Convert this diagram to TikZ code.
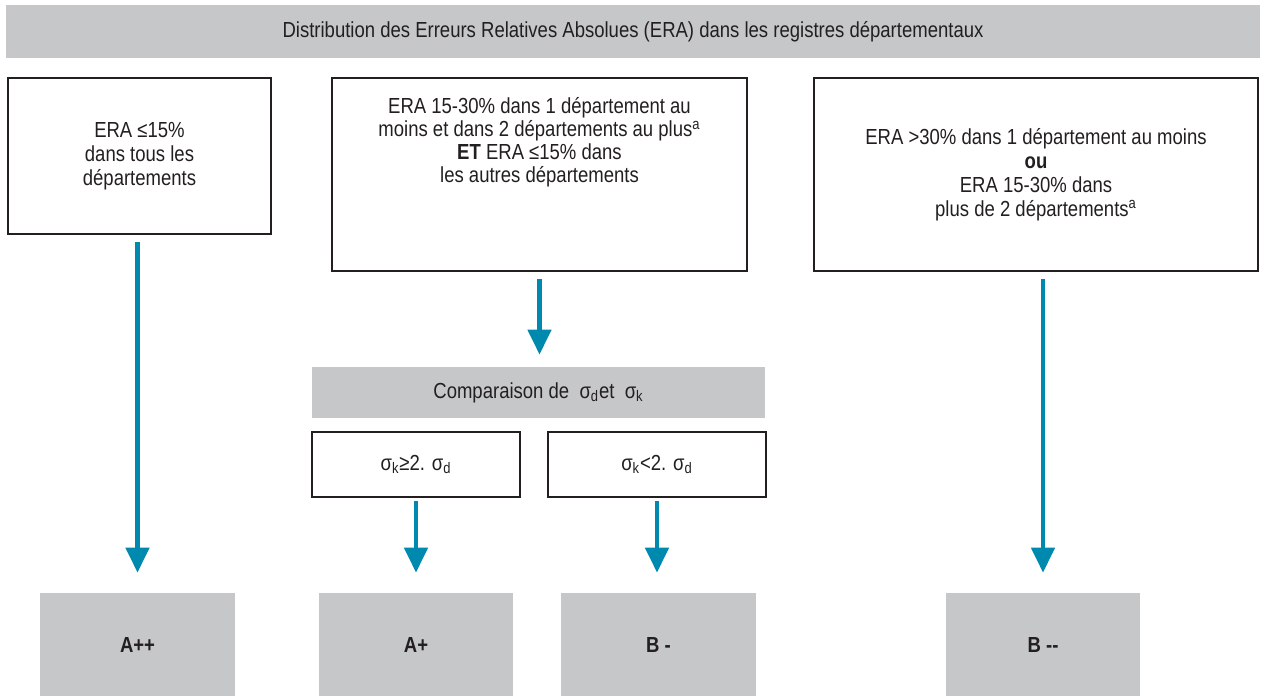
\documentclass[tikz,border=0pt]{standalone}
\usepackage{fontspec}
\setmainfont{Liberation Sans}[FakeStretch=0.85]
\usetikzlibrary{arrows.meta}
\definecolor{bandgrey}{HTML}{C6C7C9}
\definecolor{flowteal}{HTML}{0089AE}
\definecolor{inkdark}{HTML}{231F20}

\begin{document}
\begin{tikzpicture}[x=0.02cm,y=-0.02cm,
		every node/.style={text=inkdark,font=\fontsize{12.4}{13.6}\selectfont,align=center},
		band/.style={fill=bandgrey,inner sep=0pt},
		crit/.style={draw=inkdark,line width=1.1pt,inner sep=0pt},
		grade/.style={fill=bandgrey,inner sep=0pt,font=\fontsize{12.4}{13.6}\selectfont\bfseries,minimum width=3.9cm,minimum height=2.06cm},
		flow/.style={draw=flowteal,line width=2.6pt,-{Triangle[length=0.5cm,width=0.46cm]},shorten <=0.14cm,shorten >=0.4cm}]
		\useasboundingbox (0,0) rectangle (1264,696);

		% en-tete
		\node[band,minimum width=25.08cm,minimum height=1.06cm] (title) at (633,31.5) {Distribution des Erreurs Relatives Absolues (ERA) dans les registres départementaux};

		% criteres
		\node[crit,minimum width=5.26cm,minimum height=3.12cm] (crit1) at (139.5,156) {ERA ≤15\%\\dans tous les\\départements};
		\node[crit,minimum width=8.3cm,minimum height=3.86cm] (crit2) at (539.5,174.5) {};
		\node[font=\fontsize{12.4}{13.1}\selectfont] (crit2txt) at (539.5,142.5) {ERA 15-30\% dans 1 département au\\moins et dans 2 départements au plus\textsuperscript{a}\\\textbf{ET} ERA ≤15\% dans\\les autres départements};
		\node[crit,minimum width=8.88cm,minimum height=3.86cm] (crit3) at (1036,174.5) {ERA >30\% dans 1 département au moins\\\textbf{ou}\\ERA 15-30\% dans\\plus de 2 départements\textsuperscript{a}};

		% comparaison
		\node[band,minimum width=9.06cm,minimum height=1.02cm] (comp) at (538.5,392.5) {Comparaison de \ σ\textsubscript{d}et \ σ\textsubscript{k}};
		\node[crit,minimum width=4.16cm,minimum height=1.3cm] (sup) at (416,464.5) {σ\textsubscript{k}≥2. σ\textsubscript{d}};
		\node[crit,minimum width=4.36cm,minimum height=1.3cm] (inf) at (657,464.5) {σ\textsubscript{k}<2. σ\textsubscript{d}};

		% classes
		\node[grade] (app) at (137.5,644.5) {A++};
		\node[grade] (ap) at (416,644.5) {A+};
		\node[grade] (bm) at (658.5,644.5) {B -};
		\node[grade] (bmm) at (1043,644.5) {B -{}-};

		\draw[flow] (crit1.south -| app.north) -- (app.north);
		\draw[flow,shorten >=0.24cm] (crit2.south) -- (crit2.south |- comp.north);
		\draw[flow,shorten <=0.06cm] (sup.south) -- (ap.north);
		\draw[flow,shorten <=0.06cm] (inf.south) -- (inf.south |- bm.north);
		\draw[flow] (crit3.south -| bmm.north) -- (bmm.north);
	\end{tikzpicture}
\end{document}
